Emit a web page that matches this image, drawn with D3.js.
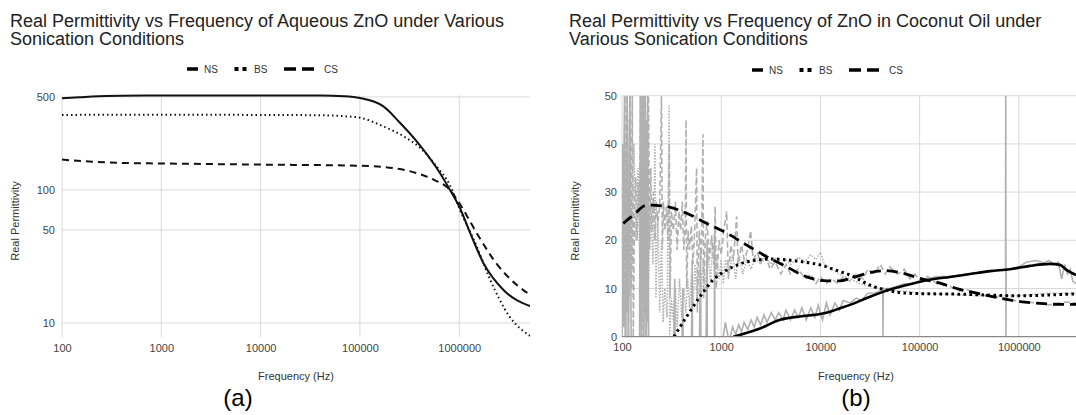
<!DOCTYPE html>
<html><head><meta charset="utf-8">
<script src="https://cdn.jsdelivr.net/npm/d3@7/dist/d3.min.js"></script>
<style>
html,body{margin:0;padding:0;background:#fff;}
svg{display:block;}
text{font-family:Arial,"Liberation Sans",sans-serif;}
</style></head><body>
<svg id="c" width="1076" height="415"></svg>
<script>
// ---------- data ----------
const seriesNames = ["NS", "BS", "CS"];
const xTicks = [100, 1000, 10000, 100000, 1000000];
const leftYTicks = [10, 50, 100, 500];
const rightYTicks = [0, 10, 20, 30, 40, 50];

// (a) Aqueous ZnO
const aqFreqNS = [100, 150, 200, 400, 1000, 10000, 40000, 70000, 100000, 171000, 253000, 373000, 593000, 807000, 1000000, 1290000, 1750000, 2790000, 5160000];
const aqNS     = [488, 497, 503, 510, 512, 513, 512, 505, 490, 426, 320, 232, 146, 100, 75, 47.4, 28.2, 17.7, 13.4];
const aqFreqBS = [100, 1000, 10000, 40000, 70000, 100000, 171000, 275000, 440000, 590000, 800000, 1000000, 1500000, 2050000, 3200000, 5160000];
const aqBS     = [366, 368, 366, 364, 358, 349, 301, 253, 195, 150, 110, 73, 37.6, 21.1, 11.2, 8.0];
const aqFreqCS = [100, 200, 500, 1000, 10000, 100000, 215000, 370000, 550000, 800000, 1000000, 1500000, 2350000, 3800000, 5160000];
const aqCS     = [169, 163, 159, 158, 155, 152, 146, 134, 119.6, 100.5, 79.8, 47.4, 28.2, 19.3, 16.3];

// (b) ZnO in coconut oil — smoothed trends
const oilFreqNS = [1325, 2460, 3920, 6220, 9900, 12500, 15800, 19900, 31600, 50300, 80000, 127000, 202000, 322000, 513000, 815000, 1300000, 2060000, 2600000, 3040000, 3770000];
const oilNS     = [0, 1.7, 3.5, 4.2, 4.7, 5.2, 5.9, 6.6, 8.3, 9.8, 10.9, 11.8, 12.4, 13.0, 13.6, 14.0, 14.7, 15.1, 14.9, 13.8, 12.8];
const oilFreqBS = [334, 449, 611, 832, 1135, 1549, 2280, 3350, 6220, 9900, 15780, 19900, 31600, 50300, 80000, 274000, 960000, 3770000];
const oilBS     = [0, 4.2, 8.3, 11.8, 13.8, 15.1, 15.9, 16.1, 15.6, 14.9, 13.5, 12.8, 10.7, 9.5, 9.0, 8.8, 8.5, 8.9];
const oilFreqCS = [103, 130, 177, 282, 449, 714, 1135, 1807, 2875, 4570, 7275, 11580, 15780, 19900, 31600, 44800, 63400, 101000, 161000, 255000, 406000, 646000, 1030000, 1640000, 2600000, 3770000];
const oilCS     = [23.5, 25.2, 27.3, 27.0, 25.6, 23.5, 21.5, 19.0, 16.6, 14.5, 12.4, 11.6, 11.6, 12.1, 13.3, 13.7, 13.3, 12.1, 11.1, 9.8, 8.9, 8.0, 7.3, 6.9, 6.7, 6.7];

// (b) raw measured traces (grey)
const rawFreqNS = [100, 106, 109, 113, 116, 120, 124, 150, 153, 157, 162, 166, 172, 176, 182, 186, 195, 330, 340, 345, 400, 410, 415, 500, 510, 515, 600, 620, 625, 700, 720, 725, 850, 860, 865, 1000, 1100, 1200, 1300, 1400, 1500, 1600, 1700, 1850, 2000, 2150, 2300, 2500, 2700, 2900, 3200, 3500, 3800, 4200, 4500, 5000, 5500, 6000, 6500, 7200, 8000, 8800, 9500, 10500, 11500, 12500, 14000, 15500, 17000, 20000, 23000, 26000, 30000, 35000, 40000, 42500, 42700, 43000, 50000, 60000, 70000, 85000, 100000, 120000, 150000, 200000, 300000, 400000, 500000, 600000, 735000, 738000, 742000, 746000, 850000, 1000000, 1200000, 1500000, 1800000, 2000000, 2300000, 2500000, 2700000, 2900000, 3100000, 3300000, 3500000, 3770000];
const rawNS     = [-5, 50, -5, 50, -5, 50, -5, -5, 50, -5, 50, -5, 50, -5, 50, -5, -5, -5, 12, -5, -5, 10, -5, -5, 16, -5, -5, 18, -5, -5, 20, -5, -5, 22, -5, -3, 3, -1, 2, 0.5, 2.5, 1, 3, 1.5, 3.5, 2, 4, 2.5, 4.5, 3, 5, 3.5, 5, 3.5, 5.5, 3.5, 5.5, 4, 6, 3.5, 6, 4, 6.5, 3.5, 7, 4.5, 7, 5.5, 7.5, 7, 8, 7.5, 9, 9, 9.5, 10, 0, 10, 10, 10.5, 11, 11, 11.5, 12, 12.5, 12.5, 13, 13.2, 13.5, 13.8, 14, 60, 0, 14, 14, 14.5, 15.5, 15.8, 15.3, 15.8, 15, 15.5, 12, 15, 13, 14, 11.5, 11];
const rawFreqBS = [100, 103, 106, 110, 114, 118, 122, 127, 132, 138, 145, 152, 160, 168, 176, 185, 195, 205, 215, 220, 230, 240, 250, 260, 270, 285, 298, 302, 315, 330, 345, 360, 380, 400, 420, 440, 460, 480, 500, 520, 545, 570, 600, 630, 660, 700, 740, 780, 820, 860, 900, 950, 1000, 1050, 1100, 1200, 1300, 1400, 1500, 1650, 1800, 2000, 2200, 2500, 2800, 3200, 3600, 4000, 4500, 5000, 6000, 7000, 8000, 9000, 10000, 11000, 12000, 14000, 17000, 20000, 25000, 30000, 40000, 50000, 70000, 100000, 200000, 400000, 700000, 1000000, 2000000, 3770000];
const rawBS     = [18, 5, 28, 10, 35, 8, 30, 15, 40, 20, 35, 12, 45, 10, 30, 12, 28, 15, 40, 8, 25, 5, 20, 3, 10, 4, 48, 0, 8, 3, 10, 2, 12, 4, 10, 5, 12, 6, 13, 7, 15, 8, 14, 9, 16, 10, 17, 11, 20, 12, 17, 12, 16, 11, 16, 13, 17, 12, 17, 13, 16, 14, 16.5, 15, 16.5, 15, 16.5, 15, 16, 15, 16.5, 15.5, 17, 16, 17.5, 15, 14.5, 13.5, 12.5, 12, 11, 10.5, 10, 9.5, 9.5, 9, 8.8, 8.5, 8.5, 8.5, 9, 9];
const rawFreqCS = [100, 102, 104, 106, 108, 110, 112, 114, 116, 118, 121, 124, 127, 130, 134, 138, 142, 146, 150, 154, 157, 160, 163, 166, 169, 172, 175, 178, 182, 185, 190, 195, 200, 207, 215, 222, 230, 240, 250, 255, 262, 270, 280, 290, 300, 305, 315, 330, 345, 360, 375, 390, 405, 420, 435, 442, 448, 465, 480, 500, 520, 540, 565, 575, 600, 630, 655, 665, 690, 720, 760, 800, 840, 870, 890, 950, 1000, 1060, 1135, 1180, 1250, 1330, 1430, 1480, 1600, 1700, 1850, 1980, 2100, 2300, 2500, 2800, 3100, 3500, 4000, 4500, 5000, 6000, 7000, 8000, 9000, 10000, 11500, 13000, 15000, 17000, 20000, 23000, 27000, 30000, 35000, 40000, 45000, 50000, 60000, 70000, 80000, 90000, 100000, 120000, 150000, 200000, 250000, 300000, 400000, 500000, 600000, 750000, 900000, 1000000, 1500000, 2000000, 3000000, 3770000];
const rawCS     = [8, 40, 2, 38, 0, 50, 5, 45, 0, 30, 50, 10, 50, 0, 28, 33, 20, 32, 25, 50, 2, 50, 0, 50, 5, 50, 0, 45, 3, 50, 18, 35, 22, 30, 20, 28, 24, 27, 50, 18, 28, 22, 27, 20, 40, 8, 26, 22, 28, 18, 26, 22, 28, 18, 24, 45, 10, 22, 18, 23, 15, 22, 35, 5, 22, 16, 42, 8, 20, 24, 16, 21, 15, 27, 10, 20, 17, 22, 26, 12, 19, 16, 25, 15, 19, 16, 18, 22, 16, 17.5, 15.5, 17, 14, 15.5, 13, 15, 13, 14, 12, 13, 11, 12.5, 11, 12, 11, 12.5, 11.5, 13, 12, 14, 13, 15, 13, 14.5, 13, 14, 12, 13, 11.5, 12.5, 11, 10.5, 9.5, 9.8, 8.8, 8.5, 8.2, 7.8, 7.5, 7.3, 7, 6.6, 7.2, 7];

// ---------- drawing ----------
const svg = d3.select("#c");
const font = 'Arial,"Liberation Sans",sans-serif';
const gridColor = "#d9d9d9";
const tickColor = "#444";

function zip(fs, vs) { return fs.map((f, i) => [f, vs[i]]); }

function drawTitle(x, lines) {
  const t = svg.append("text").attr("x", x).attr("y", 27)
    .attr("font-size", 18).attr("fill", "#222");
  lines.forEach((l, i) => t.append("tspan").attr("x", x).attr("dy", i === 0 ? 0 : 18).text(l));
}

function drawLegend(x0, y) {
  const g = svg.append("g").attr("transform", `translate(${x0},${y})`);
  const styles = [
    {off: 0, w: 11, dash: null, sw: 3.5},
    {off: 47.5, w: 12, dash: "4,4", sw: 4},
    {off: 97, w: 30, dash: "12,6", sw: 3.5}
  ];
  const textOff = [17, 67, 137];
  seriesNames.forEach((n, i) => {
    const s = styles[i];
    g.append("line").attr("x1", s.off).attr("x2", s.off + s.w).attr("y1", 0).attr("y2", 0)
      .attr("stroke", "#000").attr("stroke-width", s.sw).attr("stroke-dasharray", s.dash);
    g.append("text").attr("x", textOff[i]).attr("y", 0).attr("dy", "0.35em")
      .attr("font-size", 10).attr("fill", "#333").text(n);
  });
}

// ---- Chart (a) ----
const ax = d3.scaleLog().domain([100, 5160000]).range([62, 530]);
const ay = d3.scaleLog().domain([7.84, 517]).range([337, 95]);

drawTitle(10, ["Real Permittivity vs Frequency of Aqueous ZnO under Various", "Sonication Conditions"]);
drawLegend(187, 69);

const ga = svg.append("g");
ga.selectAll("line.hg").data(leftYTicks).join("line")
  .attr("x1", ax.range()[0]).attr("x2", ax.range()[1])
  .attr("y1", d => ay(d)).attr("y2", d => ay(d))
  .attr("stroke", gridColor).attr("stroke-width", 1);
ga.selectAll("line.vg").data(xTicks).join("line")
  .attr("x1", d => ax(d)).attr("x2", d => ax(d))
  .attr("y1", ay.range()[1]).attr("y2", ay.range()[0])
  .attr("stroke", gridColor).attr("stroke-width", 1);

const axA = svg.append("g").attr("transform", `translate(0,${ay.range()[0]})`)
  .call(d3.axisBottom(ax).tickValues(xTicks).tickFormat(d3.format("d")).tickSize(0).tickPadding(7));
const ayA = svg.append("g").attr("transform", `translate(${ax.range()[0]},0)`)
  .call(d3.axisLeft(ay).tickValues(leftYTicks).tickFormat(d3.format("d")).tickSize(0).tickPadding(7));
[axA, ayA].forEach(a => {
  a.select(".domain").remove();
  a.selectAll("text").attr("font-size", 11).attr("fill", tickColor).attr("font-family", font);
});

svg.append("clipPath").attr("id", "clipA").append("rect")
  .attr("x", 62).attr("y", 90).attr("width", 468).attr("height", 250);
const lineA = d3.line().x(d => ax(d[0])).y(d => ay(d[1])).curve(d3.curveMonotoneX);
const gA = svg.append("g").attr("clip-path", "url(#clipA)");
gA.append("path").datum(zip(aqFreqCS, aqCS)).attr("d", lineA).attr("fill", "none")
  .attr("stroke", "#111").attr("stroke-width", 2).attr("stroke-dasharray", "7,5");
gA.append("path").datum(zip(aqFreqBS, aqBS)).attr("d", lineA).attr("fill", "none")
  .attr("stroke", "#111").attr("stroke-width", 2).attr("stroke-dasharray", "1.5,3");
gA.append("path").datum(zip(aqFreqNS, aqNS)).attr("d", lineA).attr("fill", "none")
  .attr("stroke", "#111").attr("stroke-width", 2);

svg.append("text").attr("transform", "translate(19,221) rotate(-90)").attr("text-anchor", "middle")
  .attr("font-size", 11).attr("fill", "#333").text("Real Permittivity");
svg.append("text").attr("x", 296).attr("y", 380).attr("text-anchor", "middle")
  .attr("font-size", 11).attr("fill", "#333").text("Frequency (Hz)");
svg.append("text").attr("x", 238).attr("y", 406).attr("text-anchor", "middle")
  .attr("font-size", 24).attr("font-family", '"Liberation Serif","Times New Roman",serif').attr("fill", "#000").text("(a)");

// ---- Chart (b) ----
const bx = d3.scaleLog().domain([100, 3770000]).range([622, 1076]);
const by = d3.scaleLinear().domain([0, 50]).range([336.7, 95.7]);

drawTitle(569, ["Real Permittivity vs Frequency of ZnO in Coconut Oil under", "Various Sonication Conditions"]);
drawLegend(752, 70);

const gb = svg.append("g");
gb.selectAll("line.hg").data(rightYTicks.filter(d => d > 0)).join("line")
  .attr("x1", bx.range()[0]).attr("x2", bx.range()[1])
  .attr("y1", d => by(d)).attr("y2", d => by(d))
  .attr("stroke", gridColor).attr("stroke-width", 1);
gb.selectAll("line.vg").data(xTicks).join("line")
  .attr("x1", d => bx(d)).attr("x2", d => bx(d))
  .attr("y1", by.range()[1]).attr("y2", by.range()[0])
  .attr("stroke", gridColor).attr("stroke-width", 1);

svg.append("clipPath").attr("id", "clipB").append("rect")
  .attr("x", 622).attr("y", 95.7).attr("width", 454).attr("height", 241);
const lineB = d3.line().x(d => bx(d[0])).y(d => by(d[1]));
const lineBs = d3.line().x(d => bx(d[0])).y(d => by(d[1])).curve(d3.curveMonotoneX);
const gB = svg.append("g").attr("clip-path", "url(#clipB)");
const grey = "#b0b0b0";
gB.append("path").datum(zip(rawFreqBS, rawBS)).attr("d", lineB).attr("fill", "none")
  .attr("stroke", grey).attr("stroke-width", 1.5).attr("stroke-dasharray", "1.5,1.5");
gB.append("path").datum(zip(rawFreqCS, rawCS)).attr("d", lineB).attr("fill", "none")
  .attr("stroke", grey).attr("stroke-width", 1.6).attr("stroke-dasharray", "6,3");
gB.append("path").datum(zip(rawFreqNS, rawNS)).attr("d", lineB).attr("fill", "none")
  .attr("stroke", grey).attr("stroke-width", 1.6);

// baseline at 0
svg.append("line").attr("x1", 622).attr("x2", 1076).attr("y1", by(0)).attr("y2", by(0))
  .attr("stroke", "#888").attr("stroke-width", 1.2);

gB.append("path").datum(zip(oilFreqCS, oilCS)).attr("d", lineBs).attr("fill", "none")
  .attr("stroke", "#000").attr("stroke-width", 2.8).attr("stroke-dasharray", "11,6");
gB.append("path").datum(zip(oilFreqBS, oilBS)).attr("d", lineBs).attr("fill", "none")
  .attr("stroke", "#000").attr("stroke-width", 3).attr("stroke-dasharray", "2.5,3.5");
gB.append("path").datum(zip(oilFreqNS, oilNS)).attr("d", lineBs).attr("fill", "none")
  .attr("stroke", "#000").attr("stroke-width", 2.6);

const axB = svg.append("g").attr("transform", `translate(0,${by.range()[0]})`)
  .call(d3.axisBottom(bx).tickValues(xTicks).tickFormat(d3.format("d")).tickSize(0).tickPadding(7));
const ayB = svg.append("g").attr("transform", `translate(${bx.range()[0]},0)`)
  .call(d3.axisLeft(by).tickValues(rightYTicks).tickFormat(d3.format("d")).tickSize(0).tickPadding(5));
[axB, ayB].forEach(a => {
  a.select(".domain").remove();
  a.selectAll("text").attr("font-size", 11).attr("fill", tickColor).attr("font-family", font);
});

svg.append("text").attr("transform", "translate(579,221) rotate(-90)").attr("text-anchor", "middle")
  .attr("font-size", 11).attr("fill", "#333").text("Real Permittivity");
svg.append("text").attr("x", 856).attr("y", 380).attr("text-anchor", "middle")
  .attr("font-size", 11).attr("fill", "#333").text("Frequency (Hz)");
svg.append("text").attr("x", 856).attr("y", 406).attr("text-anchor", "middle")
  .attr("font-size", 24).attr("font-family", '"Liberation Serif","Times New Roman",serif').attr("fill", "#000").text("(b)");
</script>
</body></html>
